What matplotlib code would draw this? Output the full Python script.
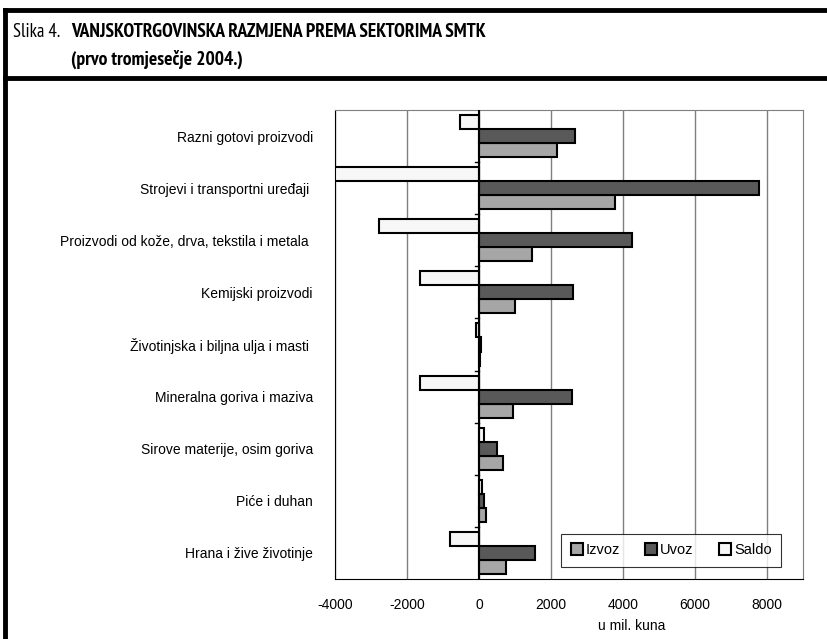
import numpy as np
import matplotlib
matplotlib.use("Agg")
import matplotlib.pyplot as plt
from matplotlib.lines import Line2D

plt.rcParams["font.family"] = ["Liberation Sans", "DejaVu Sans"]

# categories from top to bottom
categories = [
    "Razni gotovi proizvodi",
    "Strojevi i transportni uređaji ",
    "Proizvodi od kože, drva, tekstila i metala ",
    "Kemijski proizvodi",
    "Životinjska i biljna ulja i masti ",
    "Mineralna goriva i maziva",
    "Sirove materije, osim goriva",
    "Piće i duhan",
    "Hrana i žive životinje",
]
izvoz = [2170, 3780, 1470, 1000, 40, 950, 670, 200, 760]
uvoz = [2670, 7780, 4250, 2610, 60, 2580, 500, 140, 1560]
saldo = [-530, -4000, -2780, -1640, -80, -1640, 140, 80, -800]

series_names = ["Izvoz", "Uvoz", "Saldo"]
series_colors = ["#a6a6a6", "#595959", "#f7f7f7"]
x_ticks = [-4000, -2000, 0, 2000, 4000, 6000, 8000]

narrow = ["PT Sans Narrow", "Roboto Condensed", "Liberation Sans"]

fig = plt.figure(figsize=(8.27, 6.39), dpi=100)

# header frame lines
fig.add_artist(Line2D([5 / 827, 1], [1 - 10 / 639] * 2, color="black", lw=3.5))
fig.add_artist(Line2D([5 / 827, 1], [1 - 78 / 639] * 2, color="black", lw=3.5))
fig.add_artist(Line2D([5 / 827] * 2, [0, 1 - 10 / 639], color="black", lw=3.5))

fig.text(13 / 827, 1 - 32 / 639, "Slika 4.", fontsize=13.5, family=narrow, va="center")
fig.text(71 / 827, 1 - 32 / 639, "VANJSKOTRGOVINSKA RAZMJENA PREMA SEKTORIMA SMTK",
         fontsize=14, fontweight="bold", family=narrow, va="center")
fig.text(71 / 827, 1 - 59 / 639, "(prvo tromjesečje 2004.)",
         fontsize=14, fontweight="bold", family=narrow, va="center")

ax = fig.add_axes([335 / 827, 1 - 579 / 639, 468 / 827, 469 / 639])

n = len(categories)
y = np.arange(n)
h = 0.27
for k, (vals, name, col) in enumerate(zip([izvoz, uvoz, saldo], series_names, series_colors)):
    ax.barh(y + (1 - k) * h, vals, height=h, color=col, edgecolor="black",
            linewidth=1.5, label=name, zorder=3)

ax.set_xlim(-4000, 9000)
ax.set_ylim(n - 0.5, -0.5)
ax.set_xticks(x_ticks)
ax.set_xticklabels([str(t) for t in x_ticks], fontsize=10)
ax.tick_params(axis="x", length=0, pad=14)
ax.set_yticks(y)
ax.set_yticklabels(categories, fontsize=10)
ax.tick_params(axis="y", length=0, pad=16)
ax.grid(axis="x", color="#7f7f7f", lw=1.0, zorder=0)
ax.set_xlabel("u mil. kuna", fontsize=10, labelpad=5)
ax.xaxis.label.set_position(((632 - 335) / 468, 0))

# category axis through zero with boundary ticks
ax.axvline(0, color="black", lw=1.5, zorder=4)
for b in np.arange(n - 1) + 0.5:
    ax.plot([-120, 0], [b, b], color="black", lw=1.0, zorder=4)

for side in ["top", "right"]:
    ax.spines[side].set_color("#7f7f7f")
for side in ["left", "bottom"]:
    ax.spines[side].set_color("black")

leg = ax.legend(loc="lower right", bbox_to_anchor=(0.953, 0.026), ncol=3, fontsize=10.5,
                frameon=True, fancybox=False, edgecolor="black", handlelength=0.85,
                handleheight=0.85, handletextpad=0.2, columnspacing=1.7,
                borderpad=0.65, borderaxespad=0)
leg.get_frame().set_linewidth(0.8)

fig.savefig("out.png", dpi=100)
